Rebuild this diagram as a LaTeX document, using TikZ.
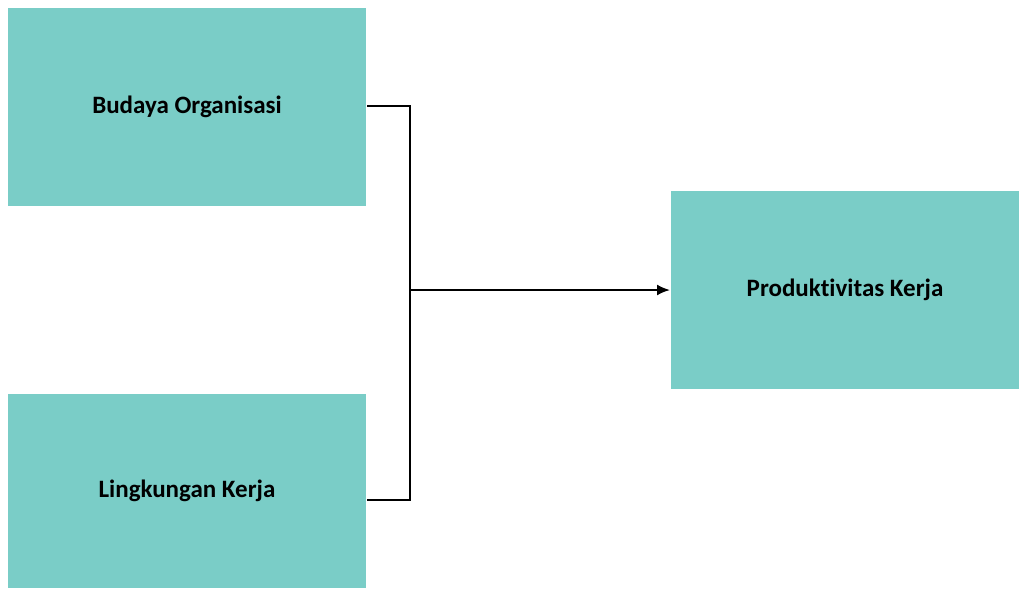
\documentclass[tikz,border=0pt]{standalone}
\usepackage{fontspec}
\setmainfont[Ligatures=NoCommon]{Carlito}
\usetikzlibrary{arrows.meta}

\definecolor{tealbox}{HTML}{7ACDC7}
\tikzset{bb/.style={fill=tealbox, minimum width=358pt, minimum height=198pt, font=\bfseries\fontsize{25}{29}\selectfont}}

\begin{document}
\begin{tikzpicture}[x=1pt, y=-1pt, line width=2pt]
    \useasboundingbox (0,0) rectangle (1020,589);
    
    \node[bb] (budaya) at (187,107) {Budaya Organisasi};
    
    \node[bb, minimum height=194pt] (lingkungan) at (187,491) {Lingkungan Kerja};
    
    \node[bb, minimum width=348pt] (produktivitas) at (845,290) {Produktivitas Kerja};
    
    \coordinate (join) at (410,290);
    
    \draw ([yshift=1pt]budaya.east) -| ([yshift=-9pt]lingkungan.east -| join) -- ([yshift=-9pt]lingkungan.east);
    
    \draw[-{Latex[length=13pt, width=11pt]}] (join) -- (produktivitas.west);
    
\end{tikzpicture}
\end{document}
